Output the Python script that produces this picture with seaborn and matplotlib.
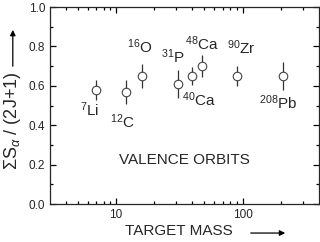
import matplotlib
matplotlib.use("Agg")
import matplotlib.pyplot as plt
import seaborn as sns
import pandas as pd
from matplotlib.ticker import MultipleLocator, FixedLocator, NullFormatter

# nuclei: mass, strength, error
nuclei = ["7Li", "12C", "16O", "31P", "40Ca", "48Ca", "90Zr", "208Pb"]
mass = [7, 12, 16, 31, 40, 48, 90, 208]
strength = [0.58, 0.57, 0.65, 0.61, 0.65, 0.70, 0.65, 0.65]
error = [0.05, 0.06, 0.06, 0.07, 0.045, 0.055, 0.05, 0.07]

# label anchors (data coords)
label_text = [r"$^{7}$Li", r"$^{12}$C", r"$^{16}$O", r"$^{31}$P",
              r"$^{40}$Ca", r"$^{48}$Ca", r"$^{90}$Zr", r"$^{208}$Pb"]
label_x = [6.2, 11.2, 15.5, 28.0, 45, 48, 98, 190]
label_y = [0.43, 0.37, 0.75, 0.70, 0.48, 0.765, 0.745, 0.465]

sns.set_style("ticks")
plt.rcParams["font.family"] = ["Liberation Sans", "DejaVu Sans"]
plt.rcParams["mathtext.fontset"] = "custom"
plt.rcParams["mathtext.rm"] = "Liberation Sans"
plt.rcParams["mathtext.it"] = "Liberation Sans:italic"

df = pd.DataFrame({"nucleus": nuclei, "mass": mass, "S": strength, "err": error})

fig = plt.figure(figsize=(3.2, 2.42), dpi=100)
ax = fig.add_axes([0.156, 0.157, 0.84, 0.814])

ax.errorbar(df["mass"], df["S"], yerr=df["err"], fmt="none",
            ecolor="#333333", elinewidth=0.9, capsize=0)
sns.scatterplot(data=df, x="mass", y="S", ax=ax, marker="o", s=38,
                facecolor="white", edgecolor="#444444", linewidth=0.8, zorder=3)

for t, x, y in zip(label_text, label_x, label_y):
    ax.text(x, y, t, fontsize=11, ha="center", va="bottom")

ax.text(0.5, 0.19, "VALENCE ORBITS", transform=ax.transAxes, fontsize=11,
        ha="center", va="bottom")

ax.set_xscale("log")
ax.set_xlim(3, 400)
ax.set_ylim(0, 1.0)
ax.xaxis.set_major_locator(FixedLocator([10, 100]))
ax.xaxis.set_major_formatter(matplotlib.ticker.FixedFormatter(["10", "100"]))
ax.xaxis.set_minor_locator(FixedLocator([4, 5, 6, 7, 8, 9, 20, 30, 40, 50, 60, 70, 80, 90, 200, 300]))
ax.xaxis.set_minor_formatter(NullFormatter())
ax.yaxis.set_major_locator(MultipleLocator(0.2))
ax.yaxis.set_minor_locator(MultipleLocator(0.1))
ax.yaxis.set_major_formatter(matplotlib.ticker.FormatStrFormatter("%.1f"))

ax.tick_params(which="both", direction="in", top=True, right=True,
               labelsize=8.5, width=0.9, color="black")
ax.tick_params(which="major", length=4)
ax.tick_params(which="minor", length=2.5)
for sp in ax.spines.values():
    sp.set_linewidth(0.9)
ax.set_xlabel("")
ax.set_ylabel("")

fig.text(0.56, 0.017, "TARGET MASS", fontsize=11, ha="center", va="bottom")
fig.text(0.04, 0.502, r"$\Sigma$S$_\alpha$ / (2J+1)", fontsize=13, rotation=90,
         ha="center", va="center")
fig.add_artist(matplotlib.patches.FancyArrowPatch(
    (0.775, 0.037), (0.90, 0.037), transform=fig.transFigure,
    arrowstyle="-|>", mutation_scale=8, color="black", lw=0.9))
fig.add_artist(matplotlib.patches.FancyArrowPatch(
    (0.04, 0.715), (0.04, 0.888), transform=fig.transFigure,
    arrowstyle="-|>", mutation_scale=8, color="black", lw=0.9))

fig.savefig("out.png", dpi=100)
